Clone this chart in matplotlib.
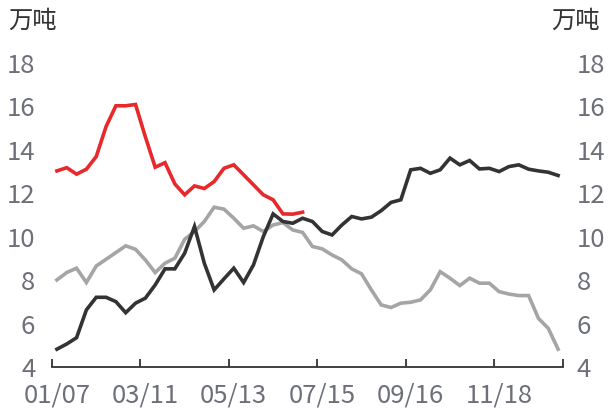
import numpy as np
import matplotlib
matplotlib.use("Agg")
import matplotlib.pyplot as plt

plt.rcParams['font.family'] = ['Noto Sans CJK SC', 'DejaVu Sans']

# weekly series (万吨)
red = [13.03, 13.18, 12.88, 13.11, 13.69, 15.07, 16.03, 16.03, 16.09, 14.6,
       13.2, 13.41, 12.43, 11.93, 12.34, 12.22, 12.54, 13.15, 13.31, 12.85,
       12.39, 11.93, 11.7, 11.05, 11.04, 11.13]
black = [4.82, 5.06, 5.35, 6.63, 7.21, 7.21, 7.01, 6.5, 6.94, 7.17,
         7.78, 8.52, 8.52, 9.24, 10.47, 8.78, 7.55, 8.06, 8.55, 7.89,
         8.7, 10.0, 11.05, 10.7, 10.62, 10.85, 10.7, 10.24, 10.08, 10.54,
         10.93, 10.82, 10.9, 11.2, 11.58, 11.7, 13.08, 13.15, 12.92, 13.08,
         13.62, 13.31, 13.51, 13.12, 13.15, 13.0, 13.23, 13.31, 13.11, 13.03,
         12.97, 12.82]
gray = [8.01, 8.35, 8.55, 7.89, 8.65, 8.96, 9.27, 9.58, 9.42, 8.93,
        8.35, 8.78, 9.01, 9.88, 10.24, 10.7, 11.36, 11.27, 10.85, 10.39,
        10.5, 10.24, 10.54, 10.65, 10.31, 10.2, 9.55, 9.44, 9.16, 8.93,
        8.52, 8.29, 7.55, 6.86, 6.74, 6.94, 6.98, 7.09, 7.55, 8.39,
        8.09, 7.75, 8.09, 7.86, 7.86, 7.47, 7.36, 7.29, 7.29, 6.24,
        5.78, 4.82]
labels = ["01/07", "03/11", "05/13", "07/15", "09/16", "11/18"]
label_idx = [0, 9, 18, 27, 36, 45]
yticks = [4, 6, 8, 10, 12, 14, 16, 18]

W, H = 609, 408
fig = plt.figure(figsize=(W / 100, H / 100), dpi=100)
ax = fig.add_axes([52 / W, 1 - 367 / H, (563 - 52) / W, (367 - 63) / H])

lbl_color = "#6E7079"
ax.plot(np.arange(len(gray)), gray, color="#A5A5A5", lw=2.6, solid_joinstyle="miter")
ax.plot(np.arange(len(black)), black, color="#333333", lw=2.6, solid_joinstyle="miter")
ax.plot(np.arange(len(red)), red, color="#E8282B", lw=2.6, solid_joinstyle="miter")

ax.set_xlim(-0.5, 51.5)
ax.set_ylim(4, 18)

for s in ["top", "left", "right"]:
    ax.spines[s].set_visible(False)
ax.spines["bottom"].set_color("#333333")
ax.spines["bottom"].set_linewidth(1.3)

# tick marks sit on band boundaries, labels on band centres
ax.set_xticks([i - 0.5 for i in label_idx] + [51.5])
ax.set_xticklabels([])
ax.tick_params(axis="x", which="major", direction="in", length=6, width=1.3, color="#333333")
ax.set_xticks(label_idx, minor=True)
ax.set_xticklabels(labels, minor=True)
ax.tick_params(axis="x", which="minor", length=0, pad=11, labelsize=18.5, labelcolor=lbl_color)

ax.set_yticks(yticks)
ax.set_yticklabels([str(v) for v in yticks])
ax.tick_params(axis="y", length=0, pad=12, labelsize=18.5, labelcolor=lbl_color)

ax2 = ax.twinx()
ax2.set_ylim(4, 18)
for s in ["top", "left", "right", "bottom"]:
    ax2.spines[s].set_visible(False)
ax2.set_yticks(yticks)
ax2.set_yticklabels([str(v) for v in yticks])
ax2.tick_params(axis="y", length=0, pad=10, labelsize=18.5, labelcolor=lbl_color)

fig.text(8 / W, 1 - 21 / H, "万吨", ha="left", va="center", fontsize=17.5, color="#333333")
fig.text(600 / W, 1 - 21 / H, "万吨", ha="right", va="center", fontsize=17.5, color="#333333")

fig.savefig("out.png", dpi=100)
